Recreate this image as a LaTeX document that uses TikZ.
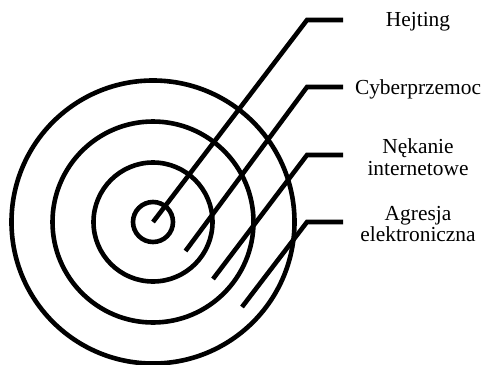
\documentclass[tikz,border=0pt]{standalone}
\usepackage{fontspec}
\setmainfont{Liberation Serif}
\begin{document}
\begin{tikzpicture}[x=0.5pt,y=-0.5pt,
  ring/.style={draw=black, line width=2.3pt},
  leader/.style={draw=black, line width=2.3pt, line cap=butt, line join=miter},
  lbl/.style={font=\fontsize{10.7}{10.8}\selectfont, align=center, inner sep=0pt}]
\useasboundingbox (0,0) rectangle (481,364);
\coordinate (c) at (153,222);
\draw[ring] (c) circle[radius=10pt];
\draw[ring] (c) circle[radius=29.75pt];
\draw[ring] (c) circle[radius=50.25pt];
\draw[ring] (c) circle[radius=70.75pt];
% leaders
\coordinate (a0) at (153,222); \coordinate (a1) at (307,20);  \coordinate (a2) at (343,20);
\coordinate (b0) at (185.5,251); \coordinate (b1) at (307,87); \coordinate (b2) at (343,87);
\coordinate (d0) at (213,279); \coordinate (d1) at (307,155); \coordinate (d2) at (343,155);
\coordinate (e0) at (242,307); \coordinate (e1) at (307,222); \coordinate (e2) at (343,222);
\draw[leader] (a0) -- (a1) -- (a2);
\draw[leader] (b0) -- (b1) -- (b2);
\draw[leader] (d0) -- (d1) -- (d2);
\draw[leader] (e0) -- (e1) -- (e2);
% labels
\node[lbl] (hejting) at (418,22) {Hejting};
\node[lbl] (cyber) at (418,89) {Cyberprzemoc};
\node[lbl] (nekanie) at (418,157) {Nękanie\\internetowe};
\node[lbl] (agresja) at (418,224) {Agresja\\elektroniczna};
\end{tikzpicture}
\end{document}
